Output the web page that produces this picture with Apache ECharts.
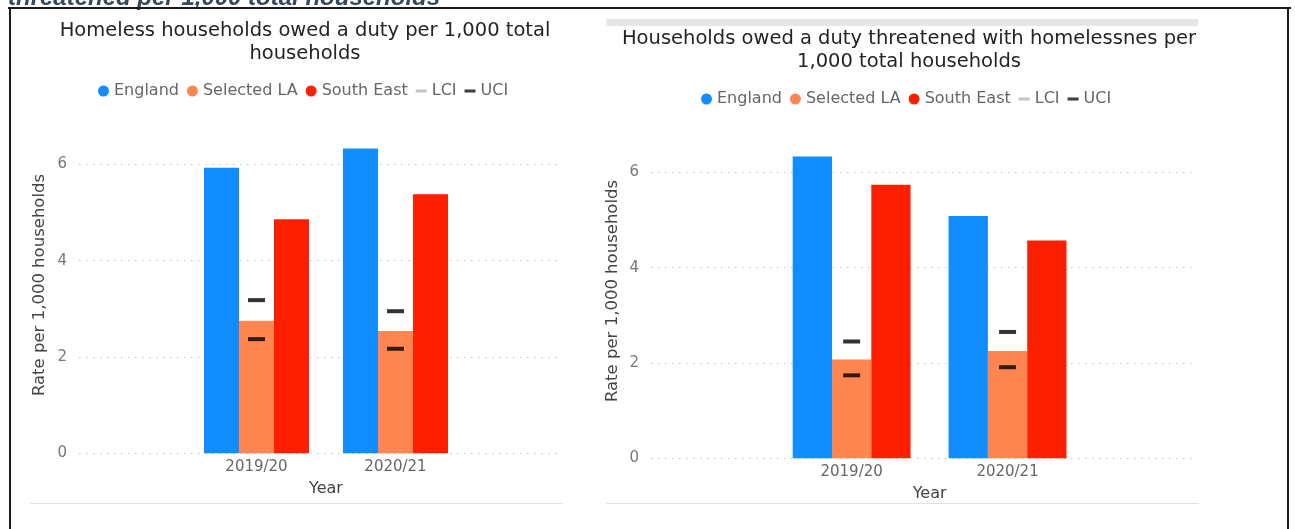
<!DOCTYPE html>
<html>
<head>
<meta charset="utf-8">
<script src="https://cdn.jsdelivr.net/npm/echarts@6/dist/echarts.min.js"></script>
<style>
html,body{margin:0;padding:0;background:#fff;}
#chart{width:1295px;height:529px;}
</style>
</head>
<body>
<div id="chart"></div>
<script>
// ---- data ----
const years = ['2019/20', '2020/21'];
const seriesNames = ['England', 'Selected LA', 'South East', 'LCI', 'UCI'];

const homelessEngland = [5.93, 6.33];
const homelessLA = [2.75, 2.54];
const homelessSE = [4.86, 5.38];
const homelessLCI = [2.37, 2.17];
const homelessUCI = [3.18, 2.95];

const threatEngland = [6.33, 5.08];
const threatLA = [2.07, 2.25];
const threatSE = [5.74, 4.57];
const threatLCI = [1.74, 1.91];
const threatUCI = [2.45, 2.65];

const yTickMax = 6;
const yTickStep = 2;

const titleLeft = 'Homeless households owed a duty per 1,000 total\nhouseholds';
const titleRight = 'Households owed a duty threatened with homelessnes per\n1,000 total households';
const yName = 'Rate per 1,000 households';
const xName = 'Year';
const headerText = 'threatened per 1,000 total households';

// ---- styling ----
const FONT = 'DejaVu Sans';
const colors = { 'England': '#118DFF', 'Selected LA': '#FF8650', 'South East': '#FC2000' };
const dashIcon = 'path://M0,0h10v2.8h-10z';

function legendData() {
  return [
    { name: 'England', icon: 'circle' },
    { name: 'Selected LA', icon: 'circle' },
    { name: 'South East', icon: 'circle' },
    { name: 'LCI', icon: dashIcon, itemStyle: { color: '#b5b5b5' } },
    { name: 'UCI', icon: dashIcon, itemStyle: { color: '#111' } }
  ];
}

function bgY(idx) {
  return {
    gridIndex: idx, type: 'value', min: 0, max: yTickMax, interval: yTickStep,
    axisLine: { show: false }, axisTick: { show: false },
    axisLabel: { color: '#777', fontSize: 15, fontFamily: FONT, margin: 12 },
    splitLine: { show: true, lineStyle: { color: '#c4c4c4', type: [1.5, 5.5], width: 1.2 } }
  };
}
function barY(idx) {
  return { gridIndex: idx, type: 'value', min: 0, max: 6.5, show: false, splitLine: { show: false } };
}
function catX(idx) {
  return {
    gridIndex: idx, type: 'category', data: years,
    axisLine: { show: false }, axisTick: { show: false },
    axisLabel: { color: '#666', fontSize: 15, fontFamily: FONT, margin: 6 },
    name: xName, nameLocation: 'middle', nameGap: 28,
    nameTextStyle: { color: '#444', fontSize: 16, fontFamily: FONT }
  };
}
function bars(xi, yi, eng, la, se, w) {
  const mk = (name, d) => ({
    name, type: 'bar', xAxisIndex: xi, yAxisIndex: yi, data: d,
    barWidth: w, barGap: '0%',
    itemStyle: { color: colors[name] }, emphasis: { disabled: true }
  });
  return [mk('England', eng), mk('Selected LA', la), mk('South East', se)];
}
function ci(xi, yi, name, d) {
  return {
    name, type: 'scatter', xAxisIndex: xi, yAxisIndex: yi, data: d,
    symbol: 'rect', symbolSize: [17, 4], z: 5,
    itemStyle: { color: '#000' }, emphasis: { disabled: true }
  };
}

const chart = echarts.init(document.getElementById('chart'), null, { renderer: 'canvas' });

const option = {
  animation: false,
  backgroundColor: '#fff',
  textStyle: { fontFamily: FONT },
  title: [
    { text: titleLeft, left: 300, top: 14, textAlign: 'center',
      textStyle: { fontFamily: FONT, fontSize: 19.5, fontWeight: 'normal', color: '#252423', lineHeight: 23 } },
    { text: titleRight, left: 904, top: 22, textAlign: 'center',
      textStyle: { fontFamily: FONT, fontSize: 19.5, fontWeight: 'normal', color: '#252423', lineHeight: 23 } }
  ],
  legend: [
    { left: 93, top: 78, data: legendData(), itemWidth: 11, itemHeight: 11, itemGap: 8,
      textStyle: { color: '#666', fontSize: 16, fontFamily: FONT }, selectedMode: false },
    { left: 696, top: 86, data: legendData(), itemWidth: 11, itemHeight: 11, itemGap: 8,
      textStyle: { color: '#666', fontSize: 16, fontFamily: FONT }, selectedMode: false }
  ],
  grid: [
    { left: 79, right: 1295 - 559, top: 164.3, bottom: 529 - 453.3 },
    { left: 187, right: 1295 - 465, top: 140.2, bottom: 529 - 453.3 },
    { left: 651, right: 1295 - 1197, top: 172.3, bottom: 529 - 458.3 },
    { left: 773.7, right: 1295 - 1085.5, top: 148.4, bottom: 529 - 458.3 }
  ],
  xAxis: [
    { gridIndex: 0, type: 'value', show: false, min: 0, max: 1 },
    catX(1),
    { gridIndex: 2, type: 'value', show: false, min: 0, max: 1 },
    catX(3)
  ],
  yAxis: [bgY(0), barY(1), bgY(2), barY(3)],
  series: [
    ...bars(1, 1, homelessEngland, homelessLA, homelessSE, 35),
    ci(1, 1, 'LCI', homelessLCI),
    ci(1, 1, 'UCI', homelessUCI),
    ...bars(3, 3, threatEngland, threatLA, threatSE, 39.3),
    ci(3, 3, 'LCI', threatLCI),
    ci(3, 3, 'UCI', threatUCI)
  ],
  graphic: [
    { type: 'text', x: 8, y: 10, z: 9,
      style: { text: headerText, fill: '#34495e', font: 'italic bold 24px "Liberation Sans", Arial, sans-serif',
               align: 'left', verticalAlign: 'bottom' } },
    { type: 'line', z: 10, shape: { x1: 8, y1: 8, x2: 1291, y2: 8 }, style: { stroke: '#1a1a1a', lineWidth: 2 } },
    { type: 'line', z: 10, shape: { x1: 10, y1: 7, x2: 10, y2: 529 }, style: { stroke: '#1a1a1a', lineWidth: 2 } },
    { type: 'line', z: 10, shape: { x1: 1288, y1: 7, x2: 1288, y2: 529 }, style: { stroke: '#1a1a1a', lineWidth: 2 } },
    { type: 'rect', z: 10, shape: { x: 606, y: 19, width: 592, height: 7 }, style: { fill: '#e6e6e6' } },
    { type: 'line', z: 10, shape: { x1: 30, y1: 503.5, x2: 563, y2: 503.5 }, style: { stroke: '#e1e1e1', lineWidth: 1 } },
    { type: 'line', z: 10, shape: { x1: 606, y1: 503.5, x2: 1199, y2: 503.5 }, style: { stroke: '#e1e1e1', lineWidth: 1 } },
    { type: 'text', x: 40, y: 285, rotation: Math.PI / 2, z: 10,
      style: { text: yName, fill: '#444', font: '16.5px "DejaVu Sans"', align: 'center', verticalAlign: 'middle' } },
    { type: 'text', x: 613, y: 291, rotation: Math.PI / 2, z: 10,
      style: { text: yName, fill: '#444', font: '16.5px "DejaVu Sans"', align: 'center', verticalAlign: 'middle' } }
  ]
};
chart.setOption(option);
</script>
</body>
</html>
